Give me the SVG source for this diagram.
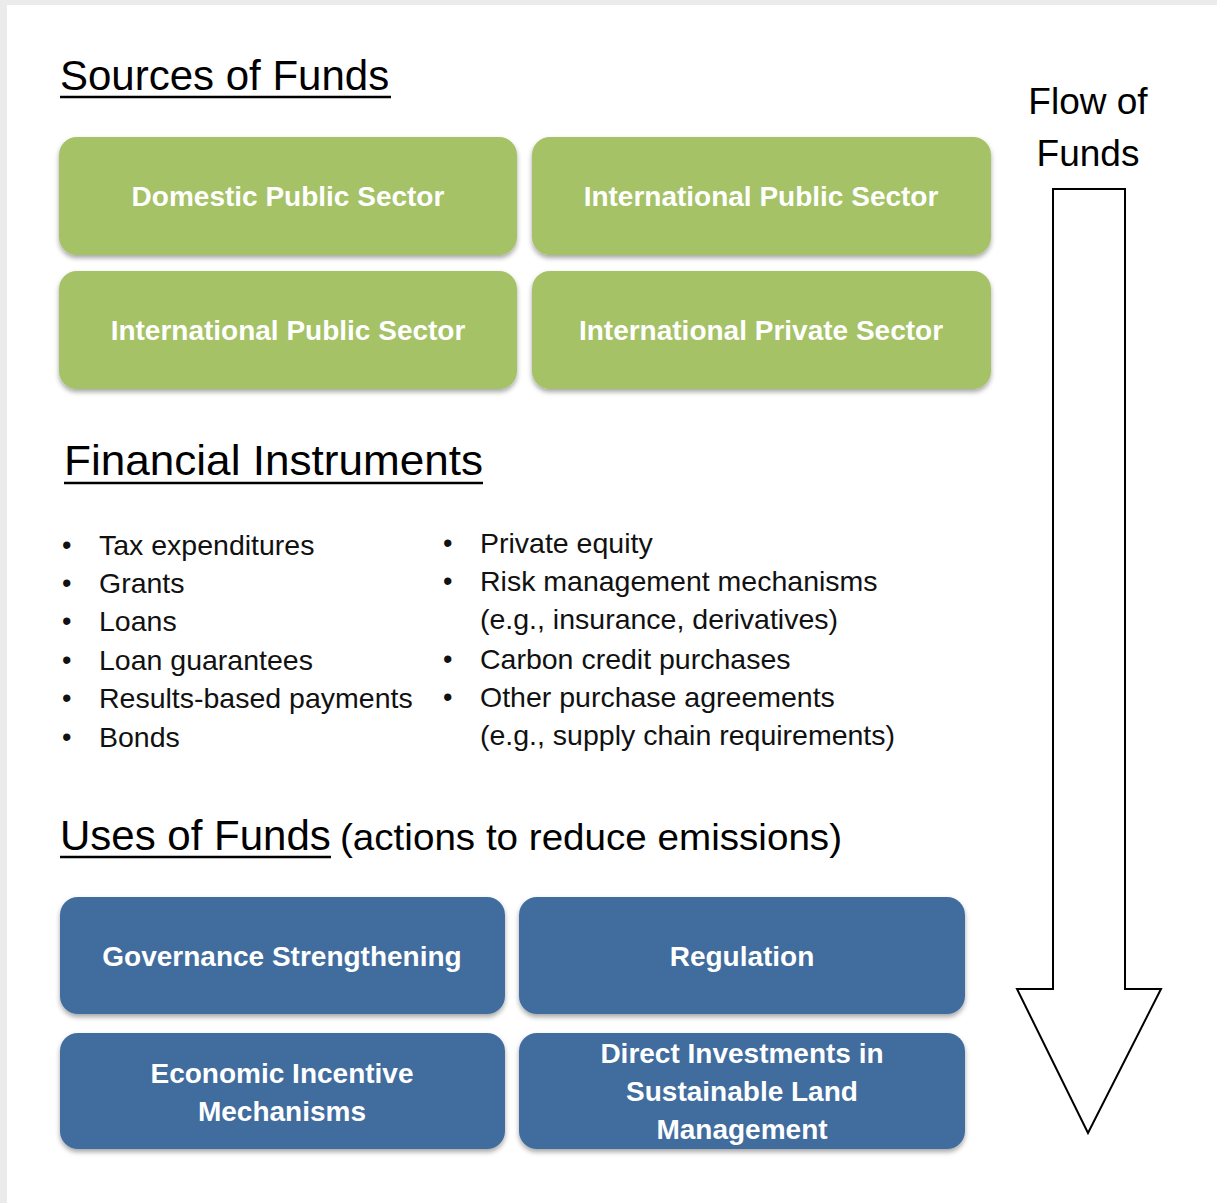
<svg xmlns="http://www.w3.org/2000/svg" width="1217" height="1203" viewBox="0 0 1217 1203">
<style>
.head{font-family:"Liberation Sans",Arial,sans-serif;font-size:42px;fill:#000}
.sub{font-family:"Liberation Sans",Arial,sans-serif;font-size:37px;fill:#000}
.li{font-family:"Liberation Sans",Arial,sans-serif;font-size:28.5px;fill:#111}
.bl{font-family:"Liberation Sans",Arial,sans-serif;font-size:27px;fill:#111}
.lbl{font-family:"Liberation Sans",Arial,sans-serif;font-size:28px;font-weight:bold;fill:#fff;text-anchor:middle}
.green{fill:#A5C266}
.blue{fill:#416C9E}
.ul{stroke:#000;stroke-width:2.5}
</style>
<defs>
<filter id="sh" x="-5%" y="-10%" width="110%" height="125%">
<feDropShadow dx="0" dy="3" stdDeviation="2.5" flood-color="#000" flood-opacity="0.35"/>
</filter>
</defs>
<rect x="0" y="0" width="1217" height="1203" fill="#EBEBEB"/>
<rect x="7" y="5" width="1210" height="1198" fill="#FFFFFF"/>

<g id="title-sources">
<text class="head" x="60" y="90">Sources of Funds</text>
<line class="ul" x1="60" y1="97" x2="391" y2="97"/>
</g>

<g id="node-domestic-public">
<rect class="green" x="59" y="137" width="458" height="118" rx="18" filter="url(#sh)"/>
<text class="lbl" x="288" y="206">Domestic Public Sector</text>
</g>
<g id="node-international-public-1">
<rect class="green" x="532" y="137" width="459" height="118" rx="18" filter="url(#sh)"/>
<text class="lbl" x="761" y="206">International Public Sector</text>
</g>
<g id="node-international-public-2">
<rect class="green" x="59" y="271" width="458" height="118" rx="18" filter="url(#sh)"/>
<text class="lbl" x="288" y="340">International Public Sector</text>
</g>
<g id="node-international-private">
<rect class="green" x="532" y="271" width="459" height="118" rx="18" filter="url(#sh)"/>
<text class="lbl" x="761" y="340">International Private Sector</text>
</g>

<g id="title-instruments">
<text class="head" x="64" y="475" textLength="419" lengthAdjust="spacingAndGlyphs">Financial Instruments</text>
<line class="ul" x1="64" y1="483" x2="483" y2="483"/>
</g>

<g id="list-left">
<text class="bl" x="62" y="554">•</text><text class="li" x="99" y="555">Tax expenditures</text>
<text class="bl" x="62" y="592">•</text><text class="li" x="99" y="593">Grants</text>
<text class="bl" x="62" y="630">•</text><text class="li" x="99" y="631">Loans</text>
<text class="bl" x="62" y="669">•</text><text class="li" x="99" y="670">Loan guarantees</text>
<text class="bl" x="62" y="707">•</text><text class="li" x="99" y="708">Results-based payments</text>
<text class="bl" x="62" y="746">•</text><text class="li" x="99" y="747">Bonds</text>
</g>
<g id="list-right">
<text class="bl" x="443" y="552">•</text><text class="li" x="480" y="553">Private equity</text>
<text class="bl" x="443" y="590">•</text><text class="li" x="480" y="591">Risk management mechanisms</text>
<text class="li" x="480" y="629">(e.g., insurance, derivatives)</text>
<text class="bl" x="443" y="668">•</text><text class="li" x="480" y="669">Carbon credit purchases</text>
<text class="bl" x="443" y="706">•</text><text class="li" x="480" y="707">Other purchase agreements</text>
<text class="li" x="480" y="745">(e.g., supply chain requirements)</text>
</g>

<g id="title-uses">
<text class="head" x="60" y="850">Uses of Funds</text>
<text class="sub" x="340" y="850" textLength="502" lengthAdjust="spacingAndGlyphs">(actions to reduce emissions)</text>
<line class="ul" x1="60" y1="857" x2="331" y2="857"/>
</g>

<g id="node-governance">
<rect class="blue" x="60" y="897" width="445" height="117" rx="18" filter="url(#sh)"/>
<text class="lbl" x="282" y="966">Governance Strengthening</text>
</g>
<g id="node-regulation">
<rect class="blue" x="519" y="897" width="446" height="117" rx="18" filter="url(#sh)"/>
<text class="lbl" x="742" y="966">Regulation</text>
</g>
<g id="node-economic">
<rect class="blue" x="60" y="1033" width="445" height="116" rx="18" filter="url(#sh)"/>
<text class="lbl" x="282" y="1083">Economic Incentive</text>
<text class="lbl" x="282" y="1121">Mechanisms</text>
</g>
<g id="node-direct">
<rect class="blue" x="519" y="1033" width="446" height="116" rx="18" filter="url(#sh)"/>
<text class="lbl" x="742" y="1063">Direct Investments in</text>
<text class="lbl" x="742" y="1101">Sustainable Land</text>
<text class="lbl" x="742" y="1139">Management</text>
</g>

<g id="connectors">
<text class="sub" x="1088" y="114" text-anchor="middle">Flow of</text>
<text class="sub" x="1088" y="166" text-anchor="middle">Funds</text>
<path d="M1053,189 H1125 V989 H1161 L1088,1133 L1017,989 H1053 Z" fill="#fff" stroke="#000" stroke-width="2" stroke-linejoin="miter"/>
</g>
</svg>
